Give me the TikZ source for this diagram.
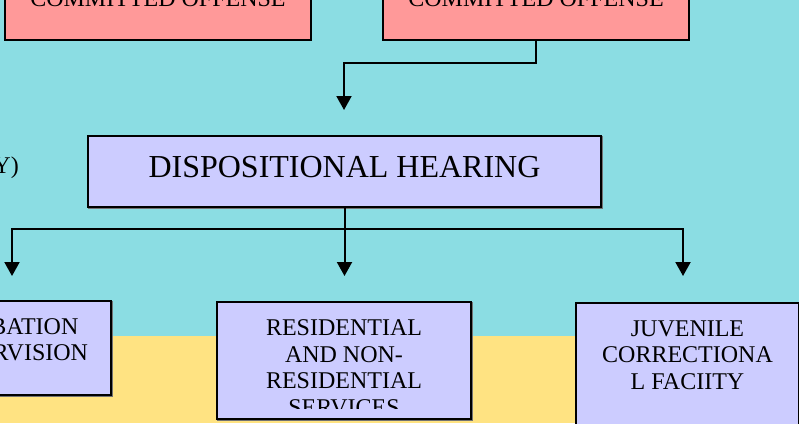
\documentclass[tikz,border=0pt]{standalone}
\usepackage{fontspec}
\setmainfont{Liberation Serif}
\usetikzlibrary{arrows.meta}
\definecolor{bgcyan}{RGB}{139,221,227}
\definecolor{bgyellow}{RGB}{255,227,130}
\definecolor{pinkfill}{RGB}{255,153,153}
\definecolor{lavfill}{RGB}{204,204,255}
\begin{document}
\begin{tikzpicture}[x=1pt,y=-1pt,
  boxline/.style={draw=black,line width=2pt,outer sep=0pt,inner sep=0pt},
  pinkbox/.style={boxline,fill=pinkfill},
  lavbox/.style={boxline,fill=lavfill,
    preaction={draw=black!55,line width=2pt,transform canvas={shift={(1.3pt,-1.3pt)}}}},
  conn/.style={line width=2pt},
  arr/.style={conn,-{Triangle[width=15pt,length=14pt]}},
  boxtext/.style={font=\fontsize{24}{26.6}\selectfont,align=center,inner sep=0pt},
  bigtext/.style={font=\fontsize{32}{36}\selectfont,inner sep=0pt}]
\useasboundingbox (0,0) rectangle (799,423);
\clip (0,0) rectangle (799,423);
\fill[bgcyan] (0,0) rectangle (799,423);
\fill[bgyellow] (0,336) rectangle (799,423);

% top boxes
\node[pinkbox,minimum width=306pt,minimum height=100pt,anchor=south west] (off1) at (5,40) {};
\node[pinkbox,minimum width=306pt,minimum height=100pt,anchor=south west] (off2) at (383,40) {};
\node[boxtext,anchor=base] (off1t) at (158,6) {COMMITTED OFFENSE};
\node[boxtext,anchor=base] (off2t) at (536,6) {COMMITTED OFFENSE};

% partial side text
\node[boxtext,anchor=base east] (sidet) at (19,173) {Y)};

% dispositional hearing
\node[lavbox,minimum width=513pt,minimum height=71.5pt,anchor=north west] (disp) at (88,135.5) {};
\node[bigtext,anchor=base] (dispt) at (344.5,177) {DISPOSITIONAL HEARING};

% bottom boxes (anchor base = baseline of last line)
\node[lavbox,minimum width=200pt,minimum height=94pt,anchor=north west] (prob) at (-89,301) {};
\node[boxtext,anchor=base] (probt) at (11,360.6) {PROBATION\\SUPERVISION};

\node[lavbox,minimum width=254pt,minimum height=117pt,anchor=north west] (res) at (217,302) {};
\begin{scope}
  \clip (219,304) rectangle (469,408);
  \node[boxtext,anchor=base] (rest) at (344,415.5) {RESIDENTIAL\\AND NON-\\RESIDENTIAL\\SERVICES};
\end{scope}

\node[lavbox,minimum width=223pt,minimum height=160pt,anchor=north west] (juv) at (576,303) {};
\node[boxtext,anchor=base] (juvt) at (687.5,389.3) {JUVENILE\\CORRECTIONA\\L FACIITY};

% connectors
\coordinate (tD) at (344,110);
\draw[arr] (off2.south) -- ++(0,23) -| (tD);

\coordinate (split) at (disp.south |- 0,229);
\coordinate (tL) at (12,276);
\coordinate (tM) at (disp.south |- 0,276);
\coordinate (tR) at (683,276);
\draw[arr] (disp.south) -- (tM);
\draw[arr] (split) -| (tL);
\draw[arr] (split) -| (tR);
\end{tikzpicture}
\end{document}
